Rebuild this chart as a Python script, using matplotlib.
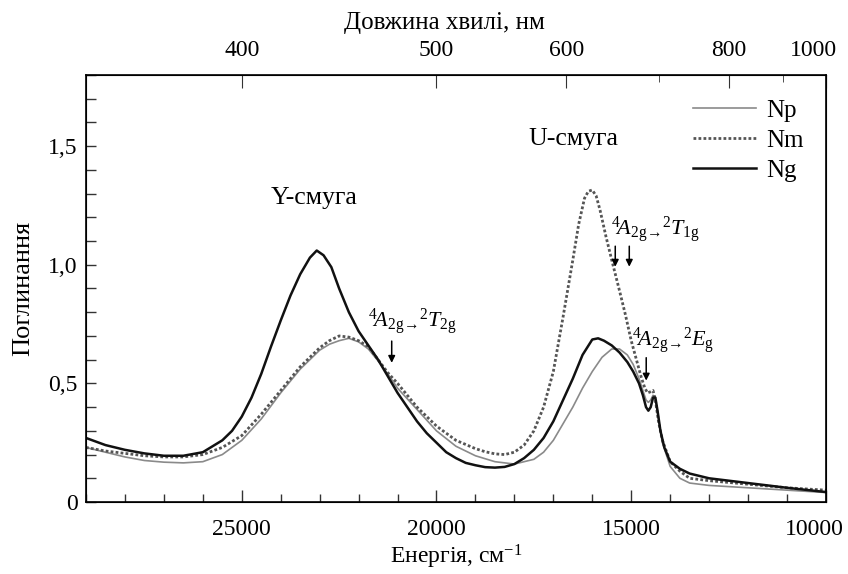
import matplotlib
matplotlib.use("Agg")
import matplotlib.pyplot as plt
import matplotlib.transforms as mtransforms
from matplotlib.ticker import MultipleLocator, FixedLocator, NullFormatter

plt.rcParams['font.family'] = ['Liberation Serif', 'DejaVu Serif']
plt.rcParams['mathtext.fontset'] = 'custom'
plt.rcParams['mathtext.rm'] = 'Liberation Serif'
plt.rcParams['mathtext.it'] = 'Liberation Serif:italic'
plt.rcParams['mathtext.bf'] = 'Liberation Serif:bold'

# energy, cm^-1 and absorbance
ng_x = [29000, 28500, 28000, 27500, 27000, 26500, 26000, 25500, 25250, 25000,
        24750, 24500, 24250, 24000, 23750, 23500, 23250, 23075, 22900, 22700,
        22500, 22250, 22000, 21750, 21500, 21250, 21000, 20750, 20500, 20250,
        20000, 19750, 19500, 19250, 19000, 18750, 18500, 18250, 18000, 17750,
        17500, 17250, 17000, 16750, 16500, 16250, 16000, 15850, 15700, 15500,
        15300, 15100, 14950, 14800, 14700, 14620, 14560, 14500, 14440, 14380,
        14320, 14250, 14150, 14000, 13750, 13500, 13000, 12500, 12000, 11000,
        10000]
ng_y = [0.27, 0.24, 0.22, 0.205, 0.195, 0.195, 0.21, 0.26, 0.30, 0.36,
        0.44, 0.54, 0.655, 0.765, 0.87, 0.96, 1.03, 1.06, 1.04, 0.99,
        0.90, 0.80, 0.72, 0.66, 0.60, 0.53, 0.46, 0.40, 0.34, 0.29,
        0.25, 0.21, 0.185, 0.165, 0.155, 0.147, 0.145, 0.148, 0.16, 0.185,
        0.22, 0.27, 0.34, 0.43, 0.52, 0.62, 0.685, 0.69, 0.68, 0.66,
        0.63, 0.59, 0.55, 0.50, 0.45, 0.40, 0.385, 0.40, 0.44, 0.44,
        0.38, 0.30, 0.23, 0.17, 0.14, 0.12, 0.10, 0.09, 0.08, 0.06,
        0.042]

nm_x = [29000, 28500, 28000, 27500, 27000, 26500, 26000, 25500, 25000, 24500,
        24000, 23500, 23000, 22750, 22500, 22250, 22000, 21750, 21500, 21250,
        21000, 20750, 20500, 20250, 20000, 19500, 19000, 18750, 18500, 18250,
        18000, 17750, 17500, 17250, 17000, 16750, 16500, 16350, 16200, 16100,
        16000, 15900, 15800, 15650, 15500, 15300, 15150, 15000, 14850, 14750,
        14650, 14580, 14500, 14440, 14380, 14300, 14200, 14000, 13750, 13500,
        13000, 12000, 11000, 10000]
nm_y = [0.23, 0.215, 0.205, 0.195, 0.19, 0.19, 0.20, 0.23, 0.28, 0.37,
        0.47, 0.57, 0.65, 0.68, 0.70, 0.695, 0.68, 0.655, 0.60, 0.545,
        0.50, 0.45, 0.40, 0.36, 0.32, 0.26, 0.225, 0.212, 0.203, 0.20,
        0.21, 0.24, 0.30, 0.40, 0.55, 0.78, 1.02, 1.17, 1.28, 1.31,
        1.315, 1.29, 1.23, 1.12, 1.02, 0.89, 0.79, 0.68, 0.59, 0.53,
        0.48, 0.46, 0.465, 0.47, 0.43, 0.34, 0.26, 0.17, 0.13, 0.10,
        0.09, 0.075, 0.06, 0.05]

np_x = [29000, 28500, 28000, 27500, 27000, 26500, 26000, 25500, 25000, 24500,
        24000, 23500, 23000, 22750, 22500, 22250, 22000, 21750, 21500, 21250,
        21000, 20500, 20000, 19500, 19000, 18500, 18000, 17500, 17250, 17000,
        16750, 16500, 16250, 16000, 15750, 15500, 15300, 15100, 14950, 14800,
        14700, 14620, 14560, 14500, 14440, 14380, 14300, 14200, 14000, 13750,
        13500, 13000, 12000, 11000, 10000]
np_y = [0.23, 0.21, 0.19, 0.175, 0.168, 0.165, 0.17, 0.20, 0.26, 0.35,
        0.46, 0.56, 0.64, 0.665, 0.68, 0.69, 0.675, 0.645, 0.595, 0.54,
        0.48, 0.39, 0.30, 0.235, 0.195, 0.17, 0.16, 0.18, 0.21, 0.26,
        0.33, 0.40, 0.48, 0.55, 0.61, 0.645, 0.645, 0.62, 0.58, 0.52,
        0.47, 0.43, 0.42, 0.43, 0.45, 0.43, 0.35, 0.25, 0.15, 0.10,
        0.08, 0.07, 0.06, 0.05, 0.04]

top_nm = [400, 500, 600, 800, 1000]
top_nm_minor = [700, 900]

fig = plt.figure(figsize=(8.48, 5.74), dpi=100)
ax = fig.add_axes([0.1014, 0.1254, 0.8726, 0.744])

ax.plot(np_x, np_y, color='#8a8a8a', lw=1.2, label='Np')
ax.plot(nm_x, nm_y, color='#555555', lw=2.0, ls=(0, (1, 0.8)), label='Nm')
ax.plot(ng_x, ng_y, color='#111111', lw=1.8, label='Ng')

ax.set_xlim(29000, 10000)
ax.set_ylim(0, 1.8)
ax.xaxis.set_major_locator(FixedLocator([25000, 20000, 15000, 10000]))
ax.xaxis.set_minor_locator(MultipleLocator(1000))
ax.yaxis.set_major_locator(FixedLocator([0, 0.5, 1.0, 1.5]))
ax.yaxis.set_minor_locator(MultipleLocator(0.1))
ax.set_yticklabels(['0', '0,5', '1,0', '1,5'])
ax.tick_params(axis='both', which='both', direction='in', labelsize=17,
               top=False, right=False, width=1, color='#333333')
ax.tick_params(axis='x', which='major', length=9, pad=12)
ax.tick_params(axis='x', which='minor', length=6)
ax.tick_params(axis='y', which='major', length=7, pad=6)
ax.tick_params(axis='y', which='minor', length=7)
for s in ax.spines.values():
    s.set_linewidth(1.2)

ax.set_xlabel('Енергія, см$^{-1}$', fontsize=17, labelpad=2)
ax.set_ylabel('Поглинання', fontsize=19, labelpad=10)

# wavelength axis on top
ax2 = ax.twiny()
ax2.set_xlim(ax.get_xlim())
ax2.xaxis.set_major_locator(FixedLocator([1e7 / w for w in top_nm]))
ax2.xaxis.set_minor_locator(FixedLocator([1e7 / w for w in top_nm_minor]))
ax2.set_xticklabels([str(w) for w in top_nm])
ax2.xaxis.set_minor_formatter(NullFormatter())
ax2.tick_params(axis='x', which='both', direction='in', labelsize=17,
                color='#333333')
ax2.tick_params(axis='x', which='major', length=9, pad=10)
ax2.tick_params(axis='x', which='minor', length=5)
ax2.set_xlabel('Довжина хвилі, нм', fontsize=18, labelpad=8, x=0.485)

# end labels sit a little inside, as in the original
fig.canvas.draw()
ax.get_xticklabels()[-1].set_transform(
    ax.get_xticklabels()[-1].get_transform()
    + mtransforms.ScaledTranslation(-0.12, 0, fig.dpi_scale_trans))
ax2.get_xticklabels()[-1].set_transform(
    ax2.get_xticklabels()[-1].get_transform()
    + mtransforms.ScaledTranslation(-0.12, 0, fig.dpi_scale_trans))

ax.text(23150, 1.28, 'Y-смуга', fontsize=18.5, ha='center', va='center')
ax.text(16490, 1.53, 'U-смуга', fontsize=18.5, ha='center', va='center')

ax.text(21750, 0.76, r'$^4\!A_{\rm 2g}\!{}_{\rightarrow}\!{}^2T_{\rm 2g}$',
        fontsize=16, ha='left', va='center')
ax.text(15530, 1.15, r'$^4\!A_{\rm 2g}\!{}_{\rightarrow}\!{}^2T_{\rm 1g}$',
        fontsize=16, ha='left', va='center')
ax.text(14970, 0.68, r'$^4\!A_{\rm 2g}\!{}_{\rightarrow}\!{}^2E_{\rm g}$',
        fontsize=16, ha='left', va='center')

arrow = dict(arrowstyle='-|>', color='black', lw=1.1, mutation_scale=10)
ax.annotate('', xy=(21150, 0.575), xytext=(21150, 0.69), arrowprops=arrow)
ax.annotate('', xy=(15410, 0.98), xytext=(15410, 1.09), arrowprops=arrow)
ax.annotate('', xy=(15050, 0.98), xytext=(15050, 1.09), arrowprops=arrow)
ax.annotate('', xy=(14615, 0.50), xytext=(14615, 0.62), arrowprops=arrow)

ax.legend(loc='upper right', bbox_to_anchor=(1.0, 0.995), frameon=False,
          fontsize=18, handlelength=2.5, handletextpad=0.4, labelspacing=0.3)

fig.savefig('out.png', dpi=100)
